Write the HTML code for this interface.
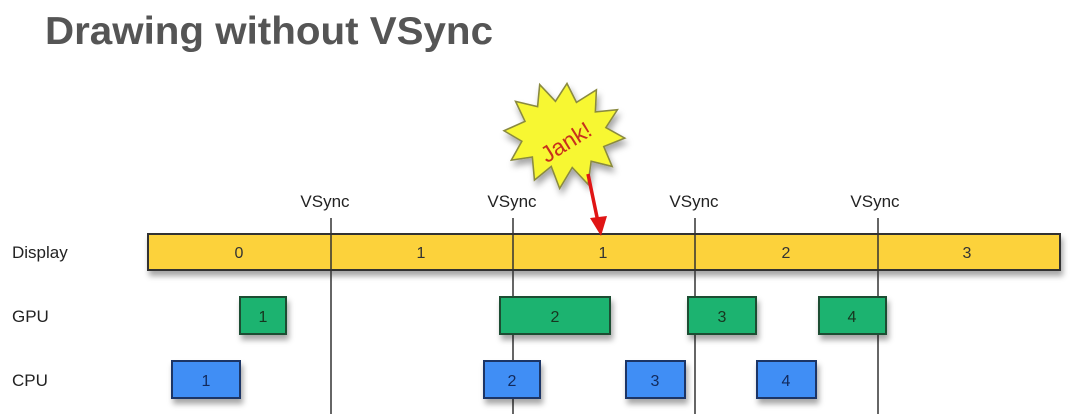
<!DOCTYPE html>
<html><head><meta charset="utf-8"><style>
html,body{margin:0;padding:0;background:#fff;width:1080px;height:414px;overflow:hidden}
svg{display:block}
text{font-family:"Liberation Sans",sans-serif}
</style></head><body>
<svg width="1080" height="414" viewBox="0 0 1080 414" xmlns="http://www.w3.org/2000/svg">
<defs>
<filter id="sh" x="-10%" y="-20%" width="130%" height="170%"><feDropShadow dx="2" dy="5" stdDeviation="3" flood-color="#000" flood-opacity="0.35"/></filter>
</defs>
<text x="45" y="44" font-size="39" font-weight="bold" fill="#555" textLength="448" lengthAdjust="spacingAndGlyphs">Drawing without VSync</text>

<g font-size="17" fill="#222">
<text x="12" y="258">Display</text>
<text x="12" y="322">GPU</text>
<text x="12" y="386">CPU</text>
<text x="325" y="207" text-anchor="middle">VSync</text>
<text x="512" y="207" text-anchor="middle">VSync</text>
<text x="694" y="207" text-anchor="middle">VSync</text>
<text x="875" y="207" text-anchor="middle">VSync</text>
</g>

<rect x="148" y="234" width="912" height="36" fill="#fcd23b" stroke="#333" stroke-width="2" filter="url(#sh)"/>
<g font-size="16" fill="#333" text-anchor="middle">
<text x="239" y="258">0</text><text x="421" y="258">1</text><text x="603" y="258">1</text><text x="786" y="258">2</text><text x="967" y="258">3</text>
</g>

<g stroke="#333" stroke-width="1.5">
<line x1="331" y1="218" x2="331" y2="414"/>
<line x1="513" y1="218" x2="513" y2="414"/>
<line x1="695" y1="218" x2="695" y2="414"/>
<line x1="878" y1="218" x2="878" y2="414"/>
</g>

<g fill="#1fb36f" stroke="#1d4d33" stroke-width="2" filter="url(#sh)">
<rect x="240" y="297" width="46" height="37"/>
<rect x="500" y="297" width="110" height="37"/>
<rect x="688" y="297" width="68" height="37"/>
<rect x="819" y="297" width="67" height="37"/>
</g>
<g fill="#3f8ef5" stroke="#1c3566" stroke-width="2" filter="url(#sh)">
<rect x="172" y="361" width="68" height="37"/>
<rect x="484" y="361" width="56" height="37"/>
<rect x="626" y="361" width="59" height="37"/>
<rect x="757" y="361" width="59" height="37"/>
</g>
<g font-size="16" text-anchor="middle" fill="#17351f">
<text x="263" y="322">1</text><text x="555" y="322">2</text><text x="722" y="322">3</text><text x="852" y="322">4</text>
</g>
<g font-size="16" text-anchor="middle" fill="#122a5c">
<text x="206" y="386">1</text><text x="512" y="386">2</text><text x="655" y="386">3</text><text x="786" y="386">4</text>
</g>

<g transform="translate(567 136) scale(1.05) translate(-563 -134)">
<polygon fill="#f7f733" stroke="#8a8a40" stroke-width="1.5" filter="url(#sh)"
points="563,84 572,102 591,90 590,111 611,109 600,126 618,136 598,144 606,163 586,158 583,180 568,164 556,184 548,163 532,176 530,154 510,157 520,139 503,129 523,120 514,101 535,106 537,85 552,101"/>
</g>
<text x="566" y="150" font-size="23" fill="#c8301c" text-anchor="middle" transform="rotate(-32 566 142)">Jank!</text>

<line x1="588" y1="174" x2="598" y2="222" stroke="#e01515" stroke-width="3.5"/>
<polygon points="590,218 607,216 601,236" fill="#e01515"/>
</svg>
</body></html>
